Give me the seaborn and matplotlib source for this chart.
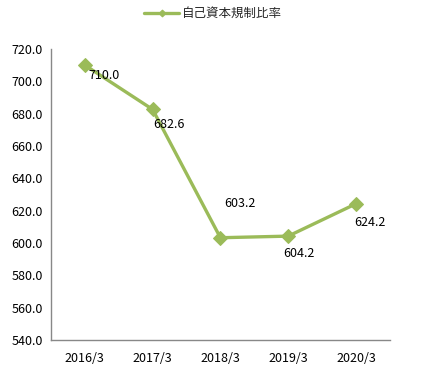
import matplotlib
matplotlib.use("Agg")
import matplotlib.pyplot as plt
import seaborn as sns
import pandas as pd

# 自己資本規制比率 (%)
periods = ['2016/3', '2017/3', '2018/3', '2019/3', '2020/3']
ratio = [710.0, 682.6, 603.2, 604.2, 624.2]
# label offsets in pixels (dx, dy) relative to each point, screen y downward
label_offsets = [(19, 10), (16, 15), (20, -34), (11, 17), (14, 19)]

df = pd.DataFrame({'期': periods, '自己資本規制比率': ratio})

sns.set_theme(style="white")
plt.rcParams['font.family'] = ['Noto Sans CJK JP', 'DejaVu Sans']

green = '#9BBB59'

fig = plt.figure(figsize=(4.21, 3.92), dpi=100)
ax = fig.add_axes([0.121, 0.133, 0.805, 0.742])

sns.lineplot(data=df, x='期', y='自己資本規制比率', ax=ax, color=green,
             linewidth=2.4, marker='D', markersize=7, markeredgecolor=green,
             label='自己資本規制比率', sort=False)

for i, (v, (dx, dy)) in enumerate(zip(ratio, label_offsets)):
    ax.annotate(f'{v:.1f}', (i, v), xytext=(dx * 0.72, -dy * 0.72),
                textcoords='offset points', ha='center', va='center',
                fontsize=9, color='black')

ax.set_ylim(540, 720)
ax.set_yticks(range(540, 721, 20))
ax.set_yticklabels([f'{t:.1f}' for t in range(540, 721, 20)])
ax.set_xlim(-0.5, 4.5)
ax.set_xlabel('')
ax.set_ylabel('')
ax.tick_params(axis='both', labelsize=9, length=0, pad=6, labelcolor='black')
ax.tick_params(axis='x', pad=9)
for s in ['top', 'right']:
    ax.spines[s].set_visible(False)
for s in ['left', 'bottom']:
    ax.spines[s].set_color('#888888')
    ax.spines[s].set_linewidth(1)

ax.legend(loc='center', bbox_to_anchor=(0.506, 0.965), bbox_transform=fig.transFigure,
          frameon=False, fontsize=9, handlelength=2.8, handletextpad=0.2,
          markerscale=0.5)

fig.savefig('out.png', dpi=100)
